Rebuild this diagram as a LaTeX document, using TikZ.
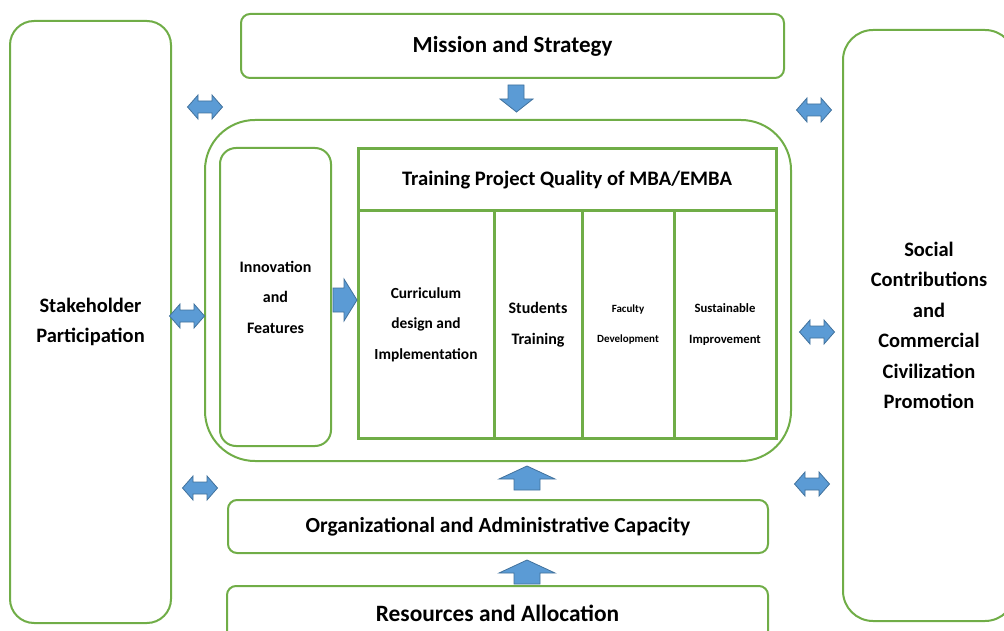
\documentclass[tikz,border=0pt]{standalone}
\usepackage{fontspec}
\setmainfont{Carlito}
\definecolor{gbord}{HTML}{70AD47}
\definecolor{afill}{HTML}{5B9BD5}
\definecolor{abord}{HTML}{41719C}
\tikzset{
  gbox/.style={draw=gbord, line width=2pt, fill=white, inner sep=0pt, align=center},
  tbox/.style={draw=gbord, line width=3pt, inner sep=0pt, align=center},
  blk/.style={fill=afill, draw=abord, line width=0.8pt, line join=miter},
}
\newcommand\dblarr[3]{\draw[blk,shift={(#2,#3)}] (-17.5,0) -- (-7,-12) -- (-7,-6) -- (7,-6) -- (7,-12) -- (17.5,0) -- (7,12) -- (7,6) -- (-7,6) -- (-7,12) -- cycle; \coordinate (#1) at (#2,#3);}
\begin{document}
\begin{tikzpicture}[x=1pt,y=-1pt]
\useasboundingbox (0,0) rectangle (1004,631);
% boxes
\node[gbox, rounded corners=24pt, minimum width=161pt, minimum height=602pt,
  font=\bfseries\fontsize{20.5}{30.5}\selectfont] (stake) at (90.5,322)
  {Stakeholder\\Participation};
\node[gbox, rounded corners=30pt, minimum width=172pt, minimum height=591pt, text width=160pt,
  font=\bfseries\fontsize{20.5}{30.5}\selectfont] (social) at (929,325.5)
  {Social\\Contributions\\and\\Commercial\\Civilization\\Promotion};
\node[gbox, rounded corners=9pt, minimum width=543pt, minimum height=64pt,
  font=\bfseries\fontsize{23}{26}\selectfont] (mission) at (512.5,46)
  {Mission and Strategy};
\node[gbox, rounded corners=50pt, minimum width=586pt, minimum height=341pt] (core) at (498,290.5) {};
\node[gbox, rounded corners=16pt, minimum width=111pt, minimum height=298pt,
  font=\bfseries\fontsize{16}{30.5}\selectfont] (innov) at (275.5,297)
  {Innovation\\and\\Features};
\node[tbox, minimum width=418pt, minimum height=62pt,
  font=\bfseries\fontsize{20.6}{24}\selectfont] (title) at (567,180)
  {Training Project Quality of MBA/EMBA};
\node[tbox, minimum width=136pt, minimum height=227pt,
  font=\bfseries\fontsize{15.4}{30.5}\selectfont] (curr) at (426,324.5)
  {Curriculum\\design and\\Implementation};
\node[tbox, minimum width=88pt, minimum height=227pt,
  font=\bfseries\fontsize{16}{30.5}\selectfont] (stud) at (538,324.5)
  {Students\\Training};
\node[tbox, minimum width=92pt, minimum height=227pt,
  font=\bfseries\fontsize{11}{30.5}\selectfont] (fac) at (628,324.5)
  {Faculty\\Development};
\node[tbox, minimum width=102pt, minimum height=227pt,
  font=\bfseries\fontsize{12.7}{30.5}\selectfont] (sust) at (725,324.5)
  {Sustainable\\Improvement};
\node[gbox, rounded corners=9pt, minimum width=540pt, minimum height=53pt,
  font=\bfseries\fontsize{21.5}{24}\selectfont] (org) at (498,526.5)
  {Organizational and Administrative Capacity};
\node[gbox, rounded corners=9pt, minimum width=541pt, minimum height=54pt,
  font=\bfseries\fontsize{23.4}{26}\selectfont] (res) at (497.5,613)
  {Resources and Allocation};
% double arrows
\dblarr{d1}{205}{107}
\dblarr{d2}{814}{110}
\dblarr{d3}{187}{316}
\dblarr{d4}{817}{332}
\dblarr{d5}{200}{488}
\dblarr{d6}{812}{484}
% down arrow mission -> core
\draw[blk] (508,85) -- (524,85) -- (524,99) -- (533,99) -- (516.5,112) -- (500,99) -- (508,99) -- cycle;
% up arrows
\draw[blk] (514,490) -- (540,490) -- (540,479) -- (555,479) -- (527,466) -- (499,479) -- (514,479) -- cycle;
\draw[blk] (514,584) -- (540,584) -- (540,573) -- (555,573) -- (527,560) -- (499,573) -- (514,573) -- cycle;
% right arrow innovation -> curriculum
\draw[blk] (333,288) -- (344,288) -- (344,279) -- (357,300) -- (344,321) -- (344,312) -- (333,312) -- cycle;
\end{tikzpicture}
\end{document}
